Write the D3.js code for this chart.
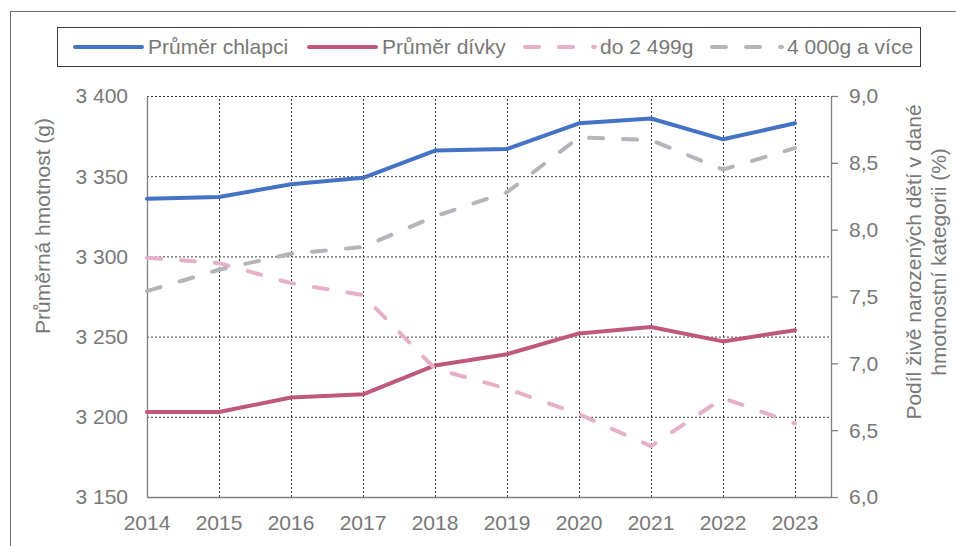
<!DOCTYPE html>
<html>
<head>
<meta charset="utf-8">
<script src="https://cdn.jsdelivr.net/npm/d3@7"></script>
<style>
    body { margin: 0; background: #fff; }
    text { font-family: "Liberation Sans", Arial, sans-serif; fill: #787878; }
    .grid line { stroke: #3c3c3c; stroke-width: 1; stroke-dasharray: 2,2; }
    .grid path { display: none; }
    .axis path, .axis line { stroke: #7f7f7f; stroke-width: 1.3; }
    .tick-label { font-size: 21px; }
    .axis-title { font-size: 21px; }
    .legend-text { font-size: 21px; }
</style>
</head>
<body>
<div id="chart"></div>
<script>

// Data
var years = [2014, 2015, 2016, 2017, 2018, 2019, 2020, 2021, 2022, 2023];
var boys = [3336, 3337, 3345, 3349, 3366, 3367, 3383, 3386, 3373, 3383];   // Průměr chlapci (g)
var girls = [3203, 3203, 3212, 3214, 3232, 3239, 3252, 3256, 3247, 3254];  // Průměr dívky (g)
var lowWeight = [7.79, 7.75, 7.60, 7.51, 6.96, 6.81, 6.62, 6.38, 6.74, 6.55];  // do 2 499g (%)
var highWeight = [7.54, 7.70, 7.82, 7.87, 8.10, 8.28, 8.69, 8.67, 8.45, 8.61]; // 4 000g a více (%)

var leftTicks = [3150, 3200, 3250, 3300, 3350, 3400];
var rightTicks = [6.0, 6.5, 7.0, 7.5, 8.0, 8.5, 9.0];

var seriesNames = ["Průměr chlapci", "Průměr dívky", "do 2 499g", "4 000g a více"];
var seriesColors = ["#4472c4", "#c0587e", "#e6b1c8", "#b4b5b9"];


LineVis = function(_parentElement){
    this.parentElement = _parentElement;
    this.initVis();
};

LineVis.prototype.initVis = function(){
    var vis = this;

    vis.svgWidth = 956;
    vis.svgHeight = 546;
    vis.margin = { top: 96, right: 125, bottom: 49, left: 147 };
    vis.width = vis.svgWidth - vis.margin.left - vis.margin.right;
    vis.height = vis.svgHeight - vis.margin.top - vis.margin.bottom;

    var root = d3.select("#" + vis.parentElement).append("svg")
        .attr("width", vis.svgWidth)
        .attr("height", vis.svgHeight);

    root.append("rect")
        .attr("width", vis.svgWidth)
        .attr("height", vis.svgHeight)
        .attr("fill", "#fff");

    // outer chart frame (runs off the right and bottom edges)
    root.append("rect")
        .attr("x", 10.5)
        .attr("y", 11.5)
        .attr("width", 980)
        .attr("height", 600)
        .attr("fill", "none")
        .attr("stroke", "#6b6b6b")
        .attr("stroke-width", 1);

    vis.root = root;
    vis.svg = root.append("g")
        .attr("transform", "translate(" + vis.margin.left + "," + vis.margin.top + ")");

    // Scales
    vis.x = d3.scaleLinear()
        .domain([2014, 2023.5])
        .range([0, vis.width]);

    vis.yLeft = d3.scaleLinear()
        .domain([3150, 3400])
        .range([vis.height, 0]);

    vis.yRight = d3.scaleLinear()
        .domain([6, 9])
        .range([vis.height, 0]);

    var czLocale = d3.formatLocale({ decimal: ",", thousands: " ", grouping: [3], currency: ["", ""] });
    vis.fmtLeft = czLocale.format(",d");
    vis.fmtRight = czLocale.format(".1f");

    vis.wrangleData();
};

LineVis.prototype.wrangleData = function(){
    var vis = this;

    vis.displayData = [
        { name: seriesNames[0], axis: "left", dashed: false, color: seriesColors[0],
          values: years.map(function(y, i){ return { year: y, value: boys[i] }; }) },
        { name: seriesNames[1], axis: "left", dashed: false, color: seriesColors[1],
          values: years.map(function(y, i){ return { year: y, value: girls[i] }; }) },
        { name: seriesNames[2], axis: "right", dashed: true, color: seriesColors[2],
          values: years.map(function(y, i){ return { year: y, value: lowWeight[i] }; }) },
        { name: seriesNames[3], axis: "right", dashed: true, color: seriesColors[3],
          values: years.map(function(y, i){ return { year: y, value: highWeight[i] }; }) }
    ];

    vis.updateVis();
};

LineVis.prototype.updateVis = function(){
    var vis = this;

    // Horizontal gridlines
    vis.svg.append("g")
        .attr("class", "grid")
        .call(d3.axisLeft(vis.yLeft)
            .tickValues(leftTicks.slice(1))
            .tickSize(-vis.width)
            .tickFormat(""));

    // Vertical gridlines
    vis.svg.append("g")
        .attr("class", "grid")
        .attr("transform", "translate(0," + vis.height + ")")
        .call(d3.axisBottom(vis.x)
            .tickValues(years.slice(1))
            .tickSize(-vis.height)
            .tickFormat(""));

    // Axis lines
    vis.svg.append("g")
        .attr("class", "axis")
        .attr("transform", "translate(0," + vis.height + ")")
        .call(d3.axisBottom(vis.x).tickValues([]).tickSizeOuter(0));

    vis.svg.append("g")
        .attr("class", "axis")
        .call(d3.axisLeft(vis.yLeft).tickValues([]).tickSizeOuter(0));

    vis.svg.append("g")
        .attr("class", "axis")
        .attr("transform", "translate(" + vis.width + ",0)")
        .call(d3.axisRight(vis.yRight).tickValues(rightTicks).tickSize(7).tickSizeOuter(0).tickFormat(""));

    // Tick labels
    vis.svg.selectAll(".x-label")
        .data(years)
        .enter().append("text")
        .attr("class", "tick-label x-label")
        .attr("x", function(d){ return vis.x(d); })
        .attr("y", vis.height + 33)
        .attr("text-anchor", "middle")
        .text(function(d){ return d; });

    vis.svg.selectAll(".yl-label")
        .data(leftTicks)
        .enter().append("text")
        .attr("class", "tick-label yl-label")
        .attr("x", -19)
        .attr("y", function(d){ return vis.yLeft(d); })
        .attr("dy", "0.35em")
        .attr("text-anchor", "end")
        .text(function(d){ return vis.fmtLeft(d); });

    vis.svg.selectAll(".yr-label")
        .data(rightTicks)
        .enter().append("text")
        .attr("class", "tick-label yr-label")
        .attr("x", vis.width + 18)
        .attr("y", function(d){ return vis.yRight(d); })
        .attr("dy", "0.35em")
        .attr("text-anchor", "start")
        .text(function(d){ return vis.fmtRight(d); });

    // Axis titles
    vis.root.append("text")
        .attr("class", "axis-title")
        .attr("transform", "translate(50,226) rotate(-90)")
        .attr("text-anchor", "middle")
        .text("Průměrná hmotnost (g)");

    vis.root.append("text")
        .attr("class", "axis-title")
        .attr("transform", "translate(921,262) rotate(-90)")
        .attr("text-anchor", "middle")
        .text("Podíl živě narozených dětí v dané");

    vis.root.append("text")
        .attr("class", "axis-title")
        .attr("transform", "translate(946,262) rotate(-90)")
        .attr("text-anchor", "middle")
        .text("hmotnostní kategorii (%)");

    // Lines
    vis.displayData.forEach(function(s){
        var yScale = s.axis === "left" ? vis.yLeft : vis.yRight;
        var line = d3.line()
            .x(function(d){ return vis.x(d.year); })
            .y(function(d){ return yScale(d.value); });

        vis.svg.append("path")
            .datum(s.values)
            .attr("fill", "none")
            .attr("stroke", s.color)
            .attr("stroke-width", 4)
            .attr("stroke-linecap", "round")
            .attr("stroke-linejoin", "round")
            .attr("stroke-dasharray", s.dashed ? "14,20" : null)
            .attr("d", line);
    });

    // Legend
    var legend = vis.root.append("g").attr("class", "legend");
    legend.append("rect")
        .attr("x", 57.5)
        .attr("y", 27.5)
        .attr("width", 863)
        .attr("height", 39)
        .attr("fill", "#fff")
        .attr("stroke", "#3a3a3a")
        .attr("stroke-width", 1);

    var legendX = [75, 309, 525, 712];
    var legendLen = [67, 67, 70, 70];
    vis.displayData.forEach(function(s, i){
        legend.append("line")
            .attr("x1", legendX[i])
            .attr("x2", legendX[i] + legendLen[i])
            .attr("y1", 47)
            .attr("y2", 47)
            .attr("stroke", s.color)
            .attr("stroke-width", 4)
            .attr("stroke-linecap", "round")
            .attr("stroke-dasharray", s.dashed ? "14,20" : null);
        legend.append("text")
            .attr("class", "legend-text")
            .attr("x", legendX[i] + legendLen[i] + (s.dashed ? 5 : 6))
            .attr("y", 54)
            .text(s.name);
    });
};

var lineVis = new LineVis("chart");
</script>
</body>
</html>
